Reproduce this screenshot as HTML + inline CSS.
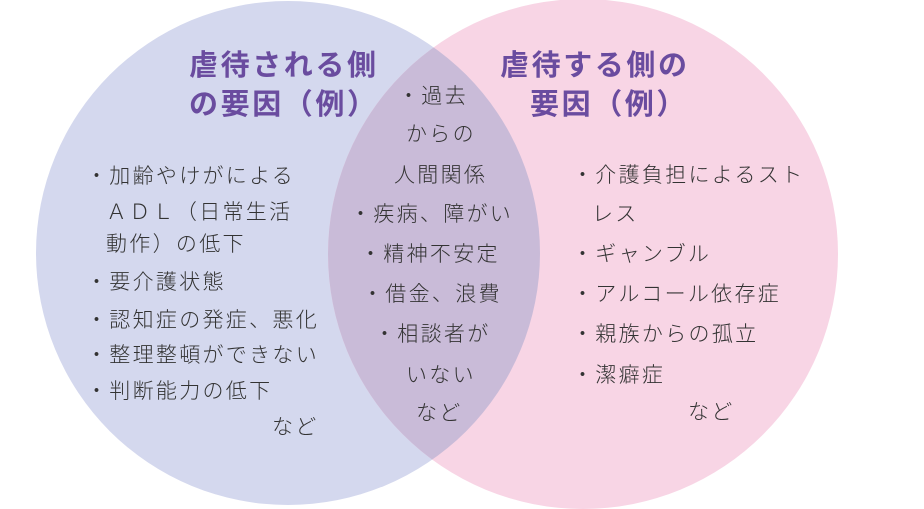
<!DOCTYPE html>
<html><head><meta charset="utf-8"><style>
body{margin:0;width:924px;height:509px;background:#fff;position:relative;overflow:hidden;font-family:"Liberation Sans","Noto Sans CJK JP",sans-serif;}
.t{position:absolute;font-size:21px;line-height:24px;color:#333;white-space:nowrap;letter-spacing:2.3px;font-weight:300}
.h{position:absolute;font-size:29px;line-height:32px;color:#6a4c9f;font-weight:bold;white-space:nowrap;letter-spacing:2.6px}
svg{position:absolute;left:0;top:0}
</style></head><body>
<svg width="924" height="509">
<defs><clipPath id="c"><circle cx="288" cy="253" r="252"/></clipPath></defs>
<circle cx="288" cy="253" r="252" fill="#d4d8ee"/>
<circle cx="583" cy="254" r="255" fill="#f8d5e5"/>
<circle cx="583" cy="254" r="255" fill="#c9bbd8" clip-path="url(#c)"/>
</svg>
<div class="h" style="left:189px;top:50px">虐待される側</div>
<div class="h" style="left:189px;top:89px">の要因（例）</div>
<div class="h" style="left:500px;top:50px">虐待する側の</div>
<div class="h" style="left:530px;top:89px">要因（例）</div>

<div class="t" style="left:86px;top:165px">・加齢やけがによる</div>
<div class="t" style="left:106px;top:201px">ＡＤＬ（日常生活</div>
<div class="t" style="left:106px;top:233px">動作）の低下</div>
<div class="t" style="left:86px;top:271px">・要介護状態</div>
<div class="t" style="left:86px;top:309px">・認知症の発症、悪化</div>
<div class="t" style="left:86px;top:344px">・整理整頓ができない</div>
<div class="t" style="left:86px;top:380px">・判断能力の低下</div>
<div class="t" style="left:272px;top:416px">など</div>

<div class="t" style="left:398px;top:85px">・過去</div>
<div class="t" style="left:406px;top:123px">からの</div>
<div class="t" style="left:394px;top:164px">人間関係</div>
<div class="t" style="left:350px;top:203px">・疾病、障がい</div>
<div class="t" style="left:360px;top:243px">・精神不安定</div>
<div class="t" style="left:362px;top:283px">・借金、浪費</div>
<div class="t" style="left:374px;top:323px">・相談者が</div>
<div class="t" style="left:406px;top:364px">いない</div>
<div class="t" style="left:416px;top:402px">など</div>

<div class="t" style="left:572px;top:164px">・介護負担によるスト</div>
<div class="t" style="left:592px;top:203px">レス</div>
<div class="t" style="left:572px;top:243px">・ギャンブル</div>
<div class="t" style="left:572px;top:283px">・アルコール依存症</div>
<div class="t" style="left:572px;top:323px">・親族からの孤立</div>
<div class="t" style="left:572px;top:364px">・潔癖症</div>
<div class="t" style="left:688px;top:401px">など</div>
</body></html>
